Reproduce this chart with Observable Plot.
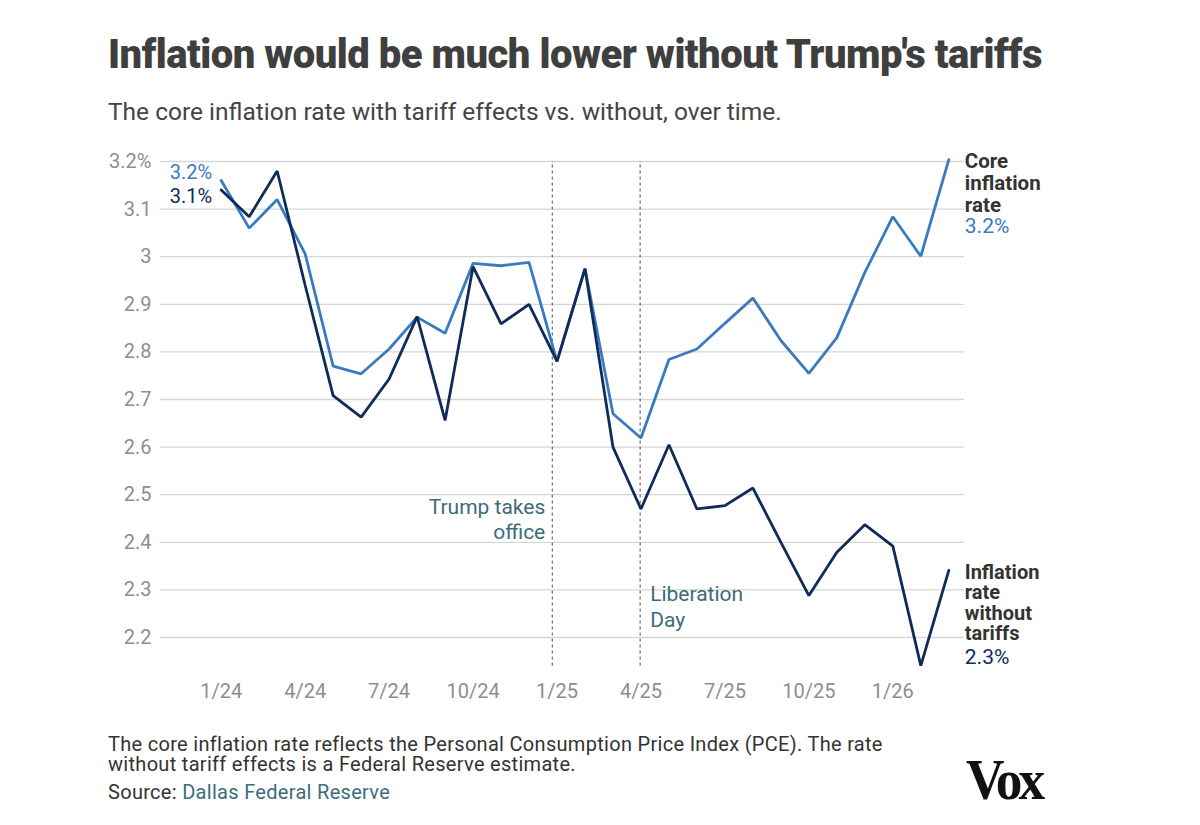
<!DOCTYPE html>
<html>
<head>
<meta charset="utf-8">
<script src="https://cdn.jsdelivr.net/npm/d3@7"></script>
<script src="https://cdn.jsdelivr.net/npm/@observablehq/plot@0.6"></script>
<style>
  html, body { margin: 0; padding: 0; background: #fff; }
  body { width: 1200px; height: 825px; position: relative; overflow: hidden; font-family: Roboto, "Noto Sans", sans-serif; }
  #title { position: absolute; left: 108px; top: 31px; font-size: 40px; font-weight: 900; color: #3f3f3f; letter-spacing: -0.5px; white-space: nowrap; }
  #subtitle { position: absolute; left: 108px; top: 97px; font-size: 24.5px; color: #444; white-space: nowrap; }
  #chart { position: absolute; left: 0; top: 140px; }
  #note { position: absolute; left: 108px; top: 734px; font-size: 20px; letter-spacing: 0.3px; line-height: 20px; color: #333; width: 800px; }
  #source { position: absolute; left: 108px; top: 780px; font-size: 20px; letter-spacing: 0.3px; color: #333; }
  #source span { color: #3d6b7a; }
  #vox { position: absolute; left: 966px; top: 748px; font-family: "Liberation Serif", "DejaVu Serif", serif; font-weight: 700; font-size: 56px; letter-spacing: -4px; color: #111; transform: scaleX(0.95); transform-origin: left; }
</style>
</head>
<body>
<div id="title">Inflation would be much lower without Trump's tariffs</div>
<div id="subtitle">The core inflation rate with tariff effects vs. without, over time.</div>
<div id="chart"></div>
<div id="note">The core inflation rate reflects the Personal Consumption Price Index (PCE). The rate without tariff effects is a Federal Reserve estimate.</div>
<div id="source">Source: <span>Dallas Federal Reserve</span></div>
<div id="vox">Vox</div>
<script>
// Months from 1/24 to 3/26 (index 0..26)
const monthIndex = d3.range(27);
const coreRate = [3.16, 3.06, 3.12, 3.006, 2.77, 2.754, 2.806, 2.873, 2.839, 2.986, 2.981, 2.988,
                  2.78, 2.975, 2.67, 2.619, 2.784, 2.806, 2.86, 2.913, 2.824, 2.755, 2.83, 2.967, 3.084, 3.001, 3.204];
const noTariffRate = [3.14, 3.084, 3.18, 2.94, 2.708, 2.663, 2.743, 2.874, 2.656, 2.979, 2.859, 2.90,
                  2.78, 2.975, 2.60, 2.47, 2.605, 2.47, 2.477, 2.514, 2.40, 2.288, 2.379, 2.437, 2.392, 2.141, 2.341];
const xTickIndex = [0, 3, 6, 9, 12, 15, 18, 21, 24];
const xTickLabels = ["1/24", "4/24", "7/24", "10/24", "1/25", "4/25", "7/25", "10/25", "1/26"];
const yTicks = [2.2, 2.3, 2.4, 2.5, 2.6, 2.7, 2.8, 2.9, 3, 3.1, 3.2];
const yTickLabels = ["2.2", "2.3", "2.4", "2.5", "2.6", "2.7", "2.8", "2.9", "3", "3.1", "3.2%"];
const eventX = [11.83, 14.97];
const eventY = [2.449, 2.267];
const eventLabels = ["Trump takes\noffice", "Liberation\nDay"];

const LIGHT = "#3a7bbf";
const DARK = "#0f2b58";
const NOTE = "#3d6b7a";

const core = monthIndex.map((m, i) => ({m, v: coreRate[i]}));
const noTar = monthIndex.map((m, i) => ({m, v: noTariffRate[i]}));
const events = eventX.map((x, i) => ({x, y: eventY[i], label: eventLabels[i]}));
const last = monthIndex.length - 1;
const pct = d => d3.format(".1f")(d.v) + "%";

const plot = Plot.plot({
  width: 1200,
  height: 580,
  marginLeft: 160,
  marginRight: 236,
  marginTop: 0,
  marginBottom: 50,
  style: {fontFamily: "Roboto, sans-serif", background: "transparent"},
  x: {domain: [0, 26], range: [220.7, 948.3], axis: null},
  y: {domain: [2.2, 3.2], range: [497, 21], axis: null},
  marks: [
    Plot.ruleY(yTicks, {stroke: "#d6d6d6", strokeWidth: 1.3}),
    Plot.text(yTicks, {y: d => d, text: (d, i) => yTickLabels[i], frameAnchor: "left", dx: -9, textAnchor: "end", fill: "#8e8e8e", fontSize: 20}),
    Plot.text(xTickIndex, {x: d => d, y: 2.2, text: (d, i) => xTickLabels[i], dy: 54, fill: "#8e8e8e", fontSize: 20, textAnchor: "middle"}),
    Plot.ruleX(eventX, {y1: 2.14, y2: 3.2, stroke: "#4a4a4a", strokeWidth: 1, strokeDasharray: "3,3"}),
    Plot.text([events[0]], {x: "x", y: "y", text: "label", textAnchor: "end", dx: -7, lineAnchor: "middle", fill: NOTE, fontSize: 21, lineHeight: 1.19}),
    Plot.text([events[1]], {x: "x", y: "y", text: "label", textAnchor: "start", dx: 10, lineAnchor: "middle", fill: NOTE, fontSize: 21, lineHeight: 1.22}),
    Plot.line(core, {x: "m", y: "v", stroke: LIGHT, strokeWidth: 2.8, strokeLinejoin: "miter"}),
    Plot.line(noTar, {x: "m", y: "v", stroke: DARK, strokeWidth: 2.8, strokeLinejoin: "miter"}),
    // start labels
    Plot.text([core[0]], {x: "m", y: "v", text: pct, textAnchor: "end", dx: -9, dy: -8, fill: LIGHT, fontSize: 20}),
    Plot.text([noTar[0]], {x: "m", y: "v", text: pct, textAnchor: "end", dx: -9, dy: 7, fill: DARK, fontSize: 20}),
    // end labels
    Plot.text([core[last]], {x: "m", y: "v", text: () => "Core\ninflation\nrate", textAnchor: "start", dx: 16, dy: 23, lineAnchor: "middle", fill: "#333", fontWeight: 700, fontSize: 20.5, lineHeight: 1.07}),
    Plot.text([core[last]], {x: "m", y: "v", text: pct, textAnchor: "start", dx: 16, dy: 67, fill: LIGHT, fontSize: 21}),
    Plot.text([noTar[last]], {x: "m", y: "v", text: () => "Inflation\nrate\nwithout\ntariffs", textAnchor: "start", dx: 16, dy: 32.5, lineAnchor: "middle", fill: "#333", fontWeight: 700, fontSize: 20, lineHeight: 1.03}),
    Plot.text([noTar[last]], {x: "m", y: "v", text: pct, textAnchor: "start", dx: 16, dy: 87, fill: DARK, fontSize: 21})
  ]
});
document.getElementById("chart").appendChild(plot);
</script>
</body>
</html>
